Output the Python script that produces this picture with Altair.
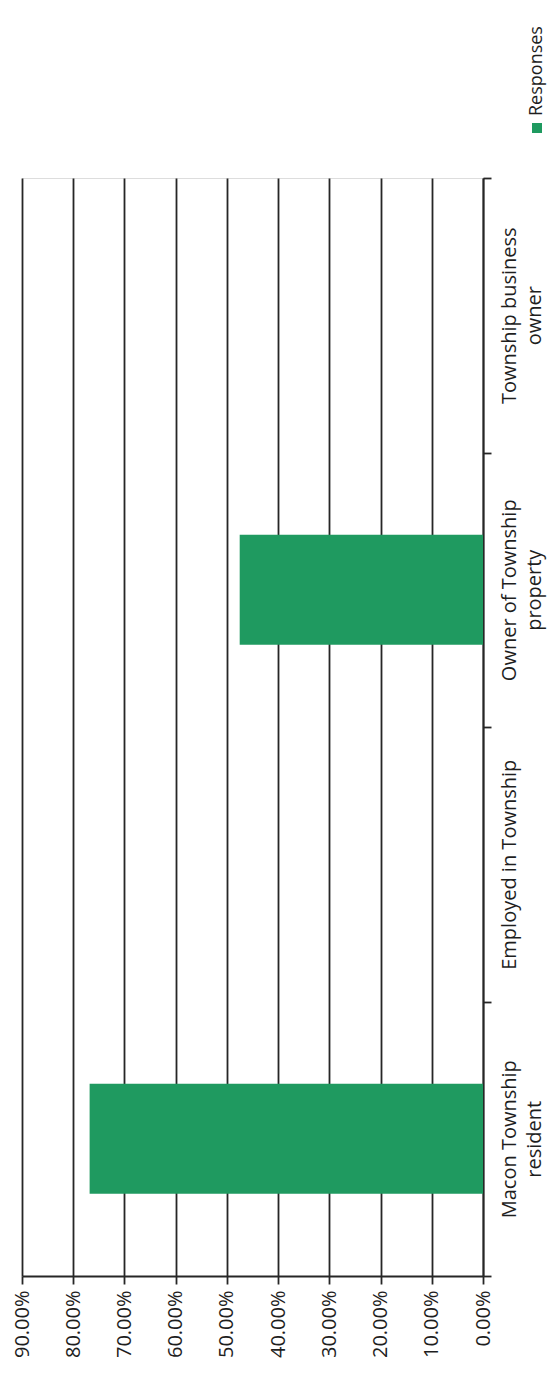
import altair as alt
import pandas as pd

categories = ["Macon Township resident", "Employed in Township",
              "Owner of Township property", "Township business owner"]
responses = [0.768, 0.0, 0.475, 0.0]
tick_values = [0.0, 0.1, 0.2, 0.3, 0.4, 0.5, 0.6, 0.7, 0.8, 0.9]
series_name = "Responses"
bar_color = "#1f9a60"

df = pd.DataFrame({"category": categories, "value": responses})

FONT = "Open Sans"
DARK = "#262626"

label_expr = ("datum.label == 'Macon Township resident' ? ['Macon Township', 'resident'] : "
              "datum.label == 'Owner of Township property' ? ['Owner of Township', 'property'] : "
              "datum.label == 'Township business owner' ? ['Township business', 'owner'] : datum.label")

bars = alt.Chart(df).mark_bar(color=bar_color, height=alt.RelativeBandSize(0.4)).encode(
    x=alt.X("value:Q",
            scale=alt.Scale(domain=[0, 0.9], reverse=True, nice=False, zero=True),
            axis=alt.Axis(values=tick_values, format=".2%", title=None,
                          orient="bottom", labelAngle=270, labelAlign="right",
                          labelBaseline="middle", labelPadding=6,
                          labelFontSize=20, labelFont=FONT, labelColor="#1e1e1e",
                          tickSize=8, tickColor=DARK, tickWidth=1.8,
                          domainColor=DARK, domainWidth=1.8,
                          grid=True, gridColor=DARK, gridWidth=1.8)),
    y=alt.Y("category:N", sort=list(reversed(categories)),
            scale=alt.Scale(paddingInner=0, paddingOuter=0),
            axis=alt.Axis(title=None, orient="right", labelAngle=270,
                          labelAlign="center", labelBaseline="top",
                          labelPadding=8, labelFontSize=20, labelFont=FONT,
                          labelColor="#1e1e1e", labelLineHeight=25,
                          labelLimit=400, labelExpr=label_expr,
                          tickBand="extent", tickSize=8, tickColor=DARK,
                          tickWidth=1.8, domainColor=DARK, domainWidth=1.8,
                          grid=False)),
)

legend_df = pd.DataFrame({"name": [series_name]})

legend_square = alt.Chart(legend_df).mark_square(
    color=bar_color, size=100, opacity=1, clip=False
).encode(x=alt.value(515), y=alt.value(-50))

legend_text = alt.Chart(legend_df).mark_text(
    angle=270, align="left", baseline="middle", font=FONT, fontSize=18,
    color="#1e1e1e", clip=False
).encode(x=alt.value(515), y=alt.value(-62), text="name:N")

chart = alt.layer(bars, legend_square, legend_text).properties(
    width=461, height=1098,
    autosize=alt.AutoSizeParams(type="none"),
    padding={"left": 14, "top": 170, "right": 67, "bottom": 92},
).configure_view(stroke=None).configure(background="white")

chart.save("out.html", embed_options={"renderer": "svg", "actions": False})
